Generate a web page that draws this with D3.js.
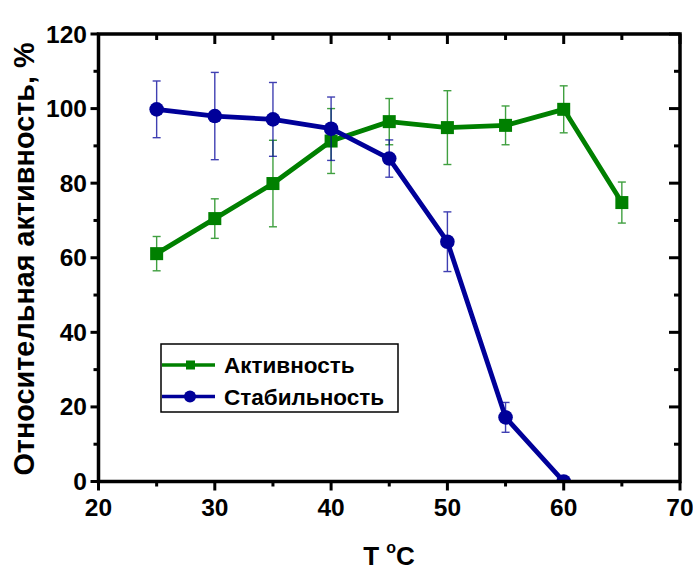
<!DOCTYPE html>
<html lang="ru">
<head>
  <meta charset="UTF-8" />
  <title>Активность и стабильность от температуры</title>
  <script src="https://d3js.org/d3.v7.min.js"></script>
  <style>
    body { margin: 0; padding: 0; background: #fff; }
    svg { display: block; font-family: "Liberation Sans", Arial, sans-serif; font-weight: bold; }
  </style>
</head>
<body>
  <svg width="693" height="572"></svg>

  <script>
  // Data
  const temps        = [25, 30, 35, 40, 45, 50, 55, 60, 65];
  const activity     = [61.1, 70.5, 79.9, 91.3, 96.5, 94.9, 95.5, 99.8, 74.8];
  const activityErr  = [4.6, 5.3, 11.6, 8.7, 6.2, 9.9, 5.2, 6.3, 5.5];
  const stabTemps    = [25, 30, 35, 40, 45, 50, 55, 60];
  const stability    = [99.8, 98.0, 97.1, 94.6, 86.6, 64.3, 17.2, 0];
  const stabilityErr = [7.6, 11.7, 9.9, 8.5, 5.0, 8.0, 4.0, 0];
  const xTicks = [20, 30, 40, 50, 60, 70];
  const yTicks = [0, 20, 40, 60, 80, 100, 120];
  const seriesNames = ["Активность", "Стабильность"];

  const GREEN = "#008000", BLUE = "#000099";

  const svg = d3.select("svg");
  const L = 98.5, R = 680, T = 34, B = 481.5;

  const x = d3.scaleLinear().domain([20, 70]).range([L, R]);
  const y = d3.scaleLinear().domain([0, 120]).range([B, T]);

  const xMinor = d3.range(25, 70, 10);
  const yMinor = d3.range(10, 120, 20);

  // clip for data
  svg.append("defs").append("clipPath").attr("id", "plot")
    .append("rect").attr("x", L).attr("y", T).attr("width", R - L).attr("height", B - T);

  const data = svg.append("g").attr("clip-path", "url(#plot)");

  function drawSeries(xs, ys, es, color, marker) {
    const pts = xs.map((t, i) => ({ t, v: ys[i], e: es[i] }));
    const eb = data.append("g").attr("stroke", color).attr("stroke-width", 1.4).attr("opacity", 0.75);
    pts.filter(d => d.e > 0).forEach(d => {
      const cx = x(d.t);
      eb.append("line").attr("x1", cx).attr("x2", cx).attr("y1", y(d.v - d.e)).attr("y2", y(d.v + d.e));
      eb.append("line").attr("x1", cx - 4).attr("x2", cx + 4).attr("y1", y(d.v - d.e)).attr("y2", y(d.v - d.e));
      eb.append("line").attr("x1", cx - 4).attr("x2", cx + 4).attr("y1", y(d.v + d.e)).attr("y2", y(d.v + d.e));
    });
    data.append("path").datum(pts)
      .attr("fill", "none").attr("stroke", color).attr("stroke-width", 4.8)
      .attr("stroke-linejoin", "round")
      .attr("d", d3.line().x(d => x(d.t)).y(d => y(d.v)));
    if (marker === "square") {
      data.selectAll(null).data(pts).enter().append("rect")
        .attr("x", d => x(d.t) - 6.5).attr("y", d => y(d.v) - 6.5)
        .attr("width", 13).attr("height", 13).attr("fill", color);
    } else {
      data.selectAll(null).data(pts).enter().append("circle")
        .attr("cx", d => x(d.t)).attr("cy", d => y(d.v)).attr("r", 7.3).attr("fill", color);
    }
  }

  drawSeries(temps, activity, activityErr, GREEN, "square");
  drawSeries(stabTemps, stability, stabilityErr, BLUE, "circle");

  // Frame and ticks
  const ax = svg.append("g").attr("stroke", "#000").attr("stroke-linecap", "butt");
  ax.append("rect").attr("x", L).attr("y", T).attr("width", R - L).attr("height", B - T)
    .attr("fill", "none").attr("stroke-width", 3.5);

  xTicks.forEach(v => {
    ax.append("line").attr("x1", x(v)).attr("x2", x(v)).attr("y1", B).attr("y2", B + 9).attr("stroke-width", 3);
    ax.append("line").attr("x1", x(v)).attr("x2", x(v)).attr("y1", T).attr("y2", T + 10).attr("stroke-width", 3);
  });
  xMinor.forEach(v => {
    ax.append("line").attr("x1", x(v)).attr("x2", x(v)).attr("y1", B).attr("y2", B + 5).attr("stroke-width", 3);
    ax.append("line").attr("x1", x(v)).attr("x2", x(v)).attr("y1", T).attr("y2", T + 6).attr("stroke-width", 3);
  });
  yTicks.forEach(v => {
    ax.append("line").attr("x1", L - 8).attr("x2", L).attr("y1", y(v)).attr("y2", y(v)).attr("stroke-width", 3);
    ax.append("line").attr("x1", R - 11).attr("x2", R).attr("y1", y(v)).attr("y2", y(v)).attr("stroke-width", 3);
  });
  yMinor.forEach(v => {
    ax.append("line").attr("x1", L - 5).attr("x2", L).attr("y1", y(v)).attr("y2", y(v)).attr("stroke-width", 3);
    ax.append("line").attr("x1", R - 6).attr("x2", R).attr("y1", y(v)).attr("y2", y(v)).attr("stroke-width", 3);
  });

  // Tick labels
  svg.append("g").selectAll("text").data(xTicks).enter().append("text")
    .attr("x", d => x(d)).attr("y", 516).attr("text-anchor", "middle")
    .attr("font-size", 24.5).text(d => d);
  svg.append("g").selectAll("text").data(yTicks).enter().append("text")
    .attr("x", 87).attr("y", d => y(d) + 8.5).attr("text-anchor", "end")
    .attr("font-size", 24.5).text(d => d);

  // Axis titles
  const xt = svg.append("text").attr("x", 389).attr("y", 565).attr("text-anchor", "middle").attr("font-size", 26);
  xt.append("tspan").text("T ");
  xt.append("tspan").attr("font-size", 16).attr("dy", -12).text("o");
  xt.append("tspan").attr("dy", 12).text("C");

  svg.append("text")
    .attr("transform", "translate(33.5,259) rotate(-90)")
    .attr("text-anchor", "middle").attr("font-size", 28.8)
    .text("Относительная активность, %");

  // Legend
  const lg = svg.append("g");
  lg.append("rect").attr("x", 161).attr("y", 344).attr("width", 237).attr("height", 68)
    .attr("fill", "#fff").attr("stroke", "#000").attr("stroke-width", 1.5);
  const legendRows = [
    { name: seriesNames[0], color: GREEN, marker: "square", y: 365 },
    { name: seriesNames[1], color: BLUE, marker: "circle", y: 396.5 }
  ];
  legendRows.forEach(r => {
    lg.append("line").attr("x1", 162).attr("x2", 215).attr("y1", r.y).attr("y2", r.y)
      .attr("stroke", r.color).attr("stroke-width", 3.5);
    if (r.marker === "square") {
      lg.append("rect").attr("x", 186).attr("y", r.y - 4.5).attr("width", 9).attr("height", 9).attr("fill", r.color);
    } else {
      lg.append("circle").attr("cx", 190).attr("cy", r.y).attr("r", 6).attr("fill", r.color);
    }
    lg.append("text").attr("x", 224).attr("y", r.y + 8).attr("font-size", 22.5).text(r.name);
  });
  </script>
</body>
</html>
